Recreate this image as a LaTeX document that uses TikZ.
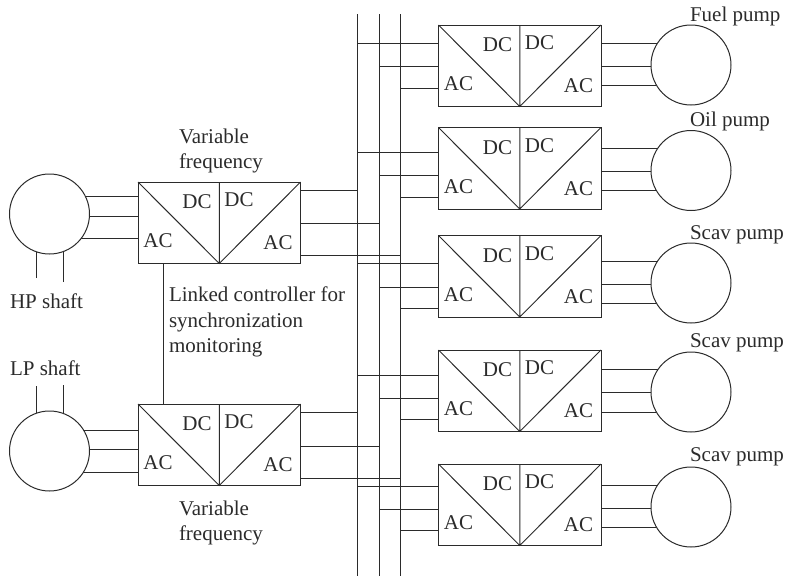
\documentclass[tikz,border=0pt]{standalone}
\usepackage{fontspec}
\setmainfont{Liberation Serif}
\usetikzlibrary{backgrounds}
\definecolor{ink}{HTML}{2B2B2B}
\tikzset{
  x=1pt,y=-1pt,
  every node/.style={outer sep=0pt,inner sep=0pt},
  wire/.style={draw=ink,line width=1pt},
  convbox/.style={draw=ink,line width=1pt,minimum width=162.5pt,minimum height=81.5pt,anchor=north west},
  machine/.style={circle,draw=ink,fill=white,line width=1pt,minimum size=80pt},
  lab/.style={text=ink,font=\fontsize{21}{25}\selectfont},
  txt/.style={lab,anchor=base west},
}
\newcommand{\conv}[3]{%
  \node[convbox] (#1) at (#2,#3) {};
  \draw[wire] (#1.north west) -- (#1.south) -- (#1.north east) (#1.north) -- (#1.south);
  \node[lab] (#1dcl) at (#2+59,#3+20) {DC};
  \node[lab] (#1dcr) at (#2+101,#3+18) {DC};
  \node[lab] (#1acl) at (#2+20,#3+59) {AC};
  \node[lab] (#1acr) at (#2+140,#3+61) {AC};
}
\begin{document}
\begin{tikzpicture}
\useasboundingbox (0,0) rectangle (787,576);
% buses
\coordinate (busA) at (357.7,14);
\coordinate (busB) at (379,14);
\coordinate (busC) at (400.3,14);
\coordinate (busAe) at (357.7,576);
\coordinate (busBe) at (379,576);
\coordinate (busCe) at (400.3,576);
\draw[wire] (busA) -- (busAe) (busB) -- (busBe) (busC) -- (busCe);
% converters
\conv{gHP}{138}{182}
\conv{gLP}{138}{404}
\conv{p1}{438.5}{25}
\conv{p2}{438.5}{127.5}
\conv{p3}{438.5}{235.5}
\conv{p4}{438.5}{350}
\conv{p5}{438.5}{464}
% machines
\node[machine] (mHP) at (49.5,214) {};
\node[machine] (mLP) at (49.5,451) {};
\node[machine] (m1) at (691,65) {};
\node[machine] (m2) at (691,170.5) {};
\node[machine] (m3) at (691,283) {};
\node[machine] (m4) at (691,392) {};
\node[machine] (m5) at (691,507) {};
\begin{scope}[on background layer]
  % generator side
  \foreach \y in {196,216,238} \draw[wire] (mHP.center |- 0,\y) -- (gHP.west |- 0,\y);
  \foreach \y in {430,449.5,472} \draw[wire] (mLP.center |- 0,\y) -- (gLP.west |- 0,\y);
  \draw[wire] (gHP.east |- 0,190) -- (busA |- 0,190);
  \draw[wire] (gHP.east |- 0,223) -- (busB |- 0,223);
  \draw[wire] (gHP.east |- 0,255.5) -- (busC |- 0,255.5);
  \draw[wire] (gLP.east |- 0,412) -- (busA |- 0,412);
  \draw[wire] (gLP.east |- 0,446) -- (busB |- 0,446);
  \draw[wire] (gLP.east |- 0,478) -- (busC |- 0,478);
  % shafts
  \coordinate (sa) at (36,278);
  \coordinate (sb) at (63.5,282);
  \coordinate (sc) at (36,386);
  \coordinate (sd) at (63.5,385);
  \draw[wire] (sa) -- (sa |- mHP.center) (sb) -- (sb |- mHP.center);
  \draw[wire] (sc) -- (sc |- mLP.center) (sd) -- (sd |- mLP.center);
  % pump side
  \foreach \b/\m/\ya/\yb/\yc/\ra/\rb/\rc in {
    p1/m1/43/66.5/88/43/66/85,
    p2/m2/152/175/197/148/171/190.5,
    p3/m3/263.5/287/308.5/261/284/303,
    p4/m4/375/398/419.5/369.5/392.5/412,
    p5/m5/486/509/530/485/508/527}{
    \draw[wire] (busA |- 0,\ya) -- (\b.west |- 0,\ya);
    \draw[wire] (busB |- 0,\yb) -- (\b.west |- 0,\yb);
    \draw[wire] (busC |- 0,\yc) -- (\b.west |- 0,\yc);
    \draw[wire] (\b.east |- 0,\ra) -- (\m.center |- 0,\ra);
    \draw[wire] (\b.east |- 0,\rb) -- (\m.center |- 0,\rb);
    \draw[wire] (\b.east |- 0,\rc) -- (\m.center |- 0,\rc);
  }
\end{scope}
% controller link
\coordinate (lnk) at (163,300);
\draw[wire] (lnk |- gHP.south) -- (lnk |- gLP.north);
% labels
\node[txt] (t1) at (179,143) {Variable};
\node[txt] (t2) at (179,168) {frequency};
\node[txt] (t3) at (179,515) {Variable};
\node[txt] (t4) at (179,540) {frequency};
\node[txt] (t5) at (10,308) {HP shaft};
\node[txt] (t6) at (10,375) {LP shaft};
\node[txt] (t7) at (169,301) {Linked controller for};
\node[txt] (t8) at (169,327) {synchronization};
\node[txt] (t9) at (169,352) {monitoring};
\node[txt] (t10) at (690,21) {Fuel pump};
\node[txt] (t11) at (690,126) {Oil pump};
\node[txt] (t12) at (690,239) {Scav pump};
\node[txt] (t13) at (690,347) {Scav pump};
\node[txt] (t14) at (690,461) {Scav pump};
\end{tikzpicture}
\end{document}
